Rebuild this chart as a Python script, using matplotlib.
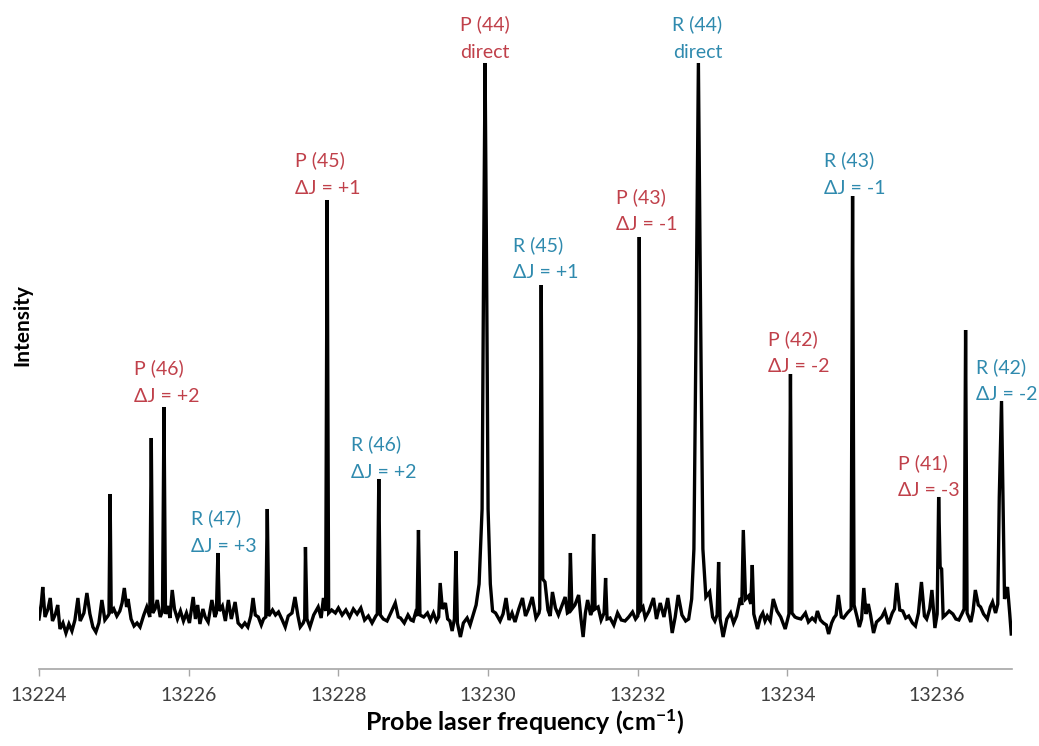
import numpy as np
import matplotlib
matplotlib.use("Agg")
from matplotlib import pyplot as plt

plt.rcParams['font.family'] = ['Lato', 'DejaVu Sans']
plt.rcParams['mathtext.default'] = 'regular'

# spectrum trace (cm-1, arbitrary intensity)
freq = [
    13224.00, 13224.03, 13224.05, 13224.08, 13224.12, 13224.15, 13224.18, 13224.22, 13224.25, 13224.28,
    13224.32, 13224.36, 13224.40, 13224.44, 13224.48, 13224.52, 13224.55, 13224.60, 13224.64, 13224.68,
    13224.72, 13224.76, 13224.80, 13224.84, 13224.88, 13224.92, 13224.935, 13224.95, 13224.965, 13225.00,
    13225.04, 13225.08, 13225.11, 13225.14, 13225.17, 13225.19, 13225.23, 13225.27, 13225.31, 13225.35,
    13225.40, 13225.44, 13225.48, 13225.50, 13225.52, 13225.55, 13225.58, 13225.62, 13225.65, 13225.67,
    13225.69, 13225.72, 13225.75, 13225.78, 13225.81, 13225.85, 13225.89, 13225.93, 13225.97, 13226.01,
    13226.06, 13226.09, 13226.12, 13226.15, 13226.19, 13226.22, 13226.26, 13226.31, 13226.35, 13226.37,
    13226.39, 13226.41, 13226.45, 13226.49, 13226.53, 13226.57, 13226.62, 13226.66, 13226.71, 13226.75,
    13226.79, 13226.83, 13226.86, 13226.89, 13226.93, 13226.97, 13227.00, 13227.03, 13227.05, 13227.07,
    13227.12, 13227.16, 13227.20, 13227.25, 13227.29, 13227.33, 13227.38, 13227.42, 13227.46, 13227.49,
    13227.53, 13227.55, 13227.56, 13227.58, 13227.62, 13227.67, 13227.73, 13227.77, 13227.80, 13227.83,
    13227.85, 13227.87, 13227.91, 13227.96, 13228.00, 13228.05, 13228.10, 13228.15, 13228.20, 13228.25,
    13228.30, 13228.35, 13228.40, 13228.45, 13228.50, 13228.52, 13228.54, 13228.56, 13228.60, 13228.65,
    13228.70, 13228.76, 13228.80, 13228.83, 13228.88, 13228.93, 13228.97, 13229.00, 13229.03, 13229.05,
    13229.07, 13229.09, 13229.14, 13229.19, 13229.23, 13229.27, 13229.31, 13229.34, 13229.36, 13229.39,
    13229.43, 13229.46, 13229.49, 13229.52, 13229.55, 13229.57, 13229.59, 13229.63, 13229.67, 13229.72,
    13229.76, 13229.80, 13229.84, 13229.88, 13229.92, 13229.94, 13229.96, 13229.98, 13230.00, 13230.03,
    13230.06, 13230.10, 13230.16, 13230.20, 13230.24, 13230.28, 13230.32, 13230.36, 13230.41, 13230.46,
    13230.50, 13230.54, 13230.59, 13230.64, 13230.68, 13230.69, 13230.71, 13230.73, 13230.76, 13230.80,
    13230.83, 13230.86, 13230.90, 13230.94, 13230.98, 13231.03, 13231.06, 13231.08, 13231.10, 13231.12,
    13231.16, 13231.21, 13231.24, 13231.27, 13231.30, 13231.33, 13231.37, 13231.39, 13231.41, 13231.43,
    13231.47, 13231.51, 13231.55, 13231.57, 13231.59, 13231.63, 13231.68, 13231.73, 13231.78, 13231.83,
    13231.88, 13231.93, 13231.97, 13232.00, 13232.02, 13232.04, 13232.07, 13232.10, 13232.15, 13232.21,
    13232.25, 13232.30, 13232.35, 13232.40, 13232.43, 13232.46, 13232.50, 13232.54, 13232.59, 13232.64,
    13232.68, 13232.72, 13232.75, 13232.78, 13232.81, 13232.84, 13232.87, 13232.91, 13232.96, 13233.00,
    13233.03, 13233.06, 13233.08, 13233.10, 13233.14, 13233.19, 13233.24, 13233.28, 13233.32, 13233.37,
    13233.39, 13233.41, 13233.44, 13233.48, 13233.51, 13233.53, 13233.55, 13233.60, 13233.64, 13233.67,
    13233.70, 13233.73, 13233.77, 13233.81, 13233.86, 13233.91, 13233.97, 13234.02, 13234.04, 13234.06,
    13234.10, 13234.13, 13234.18, 13234.24, 13234.28, 13234.33, 13234.37, 13234.40, 13234.44, 13234.48,
    13234.52, 13234.55, 13234.59, 13234.62, 13234.65, 13234.68, 13234.72, 13234.75, 13234.80, 13234.85,
    13234.87, 13234.89, 13234.93, 13234.96, 13234.99, 13235.02, 13235.05, 13235.08, 13235.11, 13235.15,
    13235.19, 13235.22, 13235.26, 13235.30, 13235.35, 13235.40, 13235.43, 13235.46, 13235.50, 13235.54,
    13235.58, 13235.62, 13235.67, 13235.71, 13235.75, 13235.79, 13235.83, 13235.86, 13235.90, 13235.93,
    13235.97, 13236.00, 13236.02, 13236.04, 13236.06, 13236.08, 13236.11, 13236.16, 13236.21, 13236.25,
    13236.29, 13236.33, 13236.36, 13236.38, 13236.40, 13236.45, 13236.48, 13236.51, 13236.55, 13236.58,
    13236.62, 13236.67, 13236.71, 13236.74, 13236.78, 13236.81, 13236.83, 13236.86, 13236.88, 13236.90,
    13236.94, 13236.97, 13236.99,
]
intensity = [
    5.0, 6.5, 8.2, 5.2, 6.0, 7.1, 4.8, 5.5, 6.4, 4.0,
    4.6, 3.6, 4.5, 3.8, 4.9, 7.1, 4.8, 5.6, 7.6, 5.5,
    4.2, 3.7, 4.6, 6.9, 4.9, 5.3, 5.5, 17.5, 5.6, 6.0,
    5.3, 5.8, 6.6, 8.1, 6.2, 7.0, 5.0, 4.3, 4.6, 4.2,
    5.4, 6.2, 5.2, 23.1, 5.6, 6.0, 6.9, 5.2, 5.8, 26.2,
    5.5, 6.3, 5.1, 7.9, 6.0, 5.0, 5.8, 4.8, 5.6, 4.6,
    7.2, 5.0, 6.4, 4.5, 6.0, 5.2, 4.7, 6.9, 5.2, 5.6,
    11.6, 5.8, 6.3, 4.8, 6.9, 5.0, 6.7, 4.6, 4.2, 4.6,
    4.2, 5.3, 7.1, 5.4, 5.2, 4.4, 5.0, 5.2, 16.0, 5.3,
    5.9, 5.4, 5.7, 4.9, 4.2, 5.3, 5.6, 7.2, 5.3, 4.2,
    4.6, 5.0, 12.2, 5.0, 4.2, 5.4, 6.2, 5.1, 7.1, 5.8,
    46.9, 5.6, 5.9, 5.6, 6.1, 5.4, 5.9, 5.2, 6.0, 5.5,
    6.1, 4.9, 5.3, 4.6, 5.3, 5.5, 19.0, 5.4, 5.0, 4.8,
    5.6, 6.6, 5.2, 5.1, 4.6, 5.4, 4.9, 4.8, 5.6, 5.3,
    13.9, 5.4, 5.2, 5.6, 4.9, 5.6, 4.8, 5.2, 8.6, 6.0,
    6.6, 5.0, 4.8, 3.8, 5.0, 11.8, 4.6, 3.2, 4.6, 5.1,
    4.4, 5.4, 6.4, 8.5, 16.0, 40.0, 60.6, 40.0, 16.0, 8.5,
    5.8, 5.6, 4.8, 5.5, 7.1, 4.9, 5.6, 4.7, 6.0, 7.1,
    5.3, 6.0, 7.2, 5.1, 5.6, 6.0, 38.4, 9.0, 8.7, 5.9,
    5.3, 7.7, 6.1, 5.4, 6.2, 7.2, 5.6, 5.7, 11.6, 6.0,
    6.4, 7.4, 5.1, 3.2, 5.6, 6.9, 5.4, 5.8, 13.5, 6.0,
    6.2, 4.9, 5.6, 9.1, 5.0, 5.1, 4.4, 5.6, 4.9, 4.8,
    5.2, 5.7, 5.0, 5.3, 43.2, 5.9, 6.2, 5.1, 5.8, 7.1,
    5.0, 6.6, 5.2, 7.1, 5.5, 3.6, 5.2, 7.4, 5.4, 4.8,
    5.0, 7.0, 12.0, 35.0, 60.6, 35.0, 12.0, 7.2, 7.7, 5.2,
    4.8, 5.4, 10.7, 5.0, 3.2, 5.0, 5.6, 4.6, 5.3, 7.1,
    6.4, 13.9, 7.0, 7.3, 6.5, 10.4, 5.5, 4.0, 5.2, 5.6,
    4.8, 5.3, 4.8, 7.0, 5.8, 5.2, 4.0, 5.5, 29.5, 5.6,
    5.2, 5.1, 5.0, 5.6, 4.7, 5.1, 4.8, 5.8, 4.9, 4.6,
    4.4, 3.5, 4.6, 5.1, 5.4, 7.4, 5.2, 5.1, 5.6, 6.0,
    47.3, 6.4, 5.2, 4.2, 5.0, 8.1, 5.5, 6.5, 5.4, 3.6,
    4.7, 4.9, 5.2, 5.8, 4.5, 5.6, 6.0, 8.6, 5.9, 5.8,
    5.1, 5.3, 4.6, 4.3, 5.6, 8.7, 5.3, 5.0, 6.0, 7.9,
    4.1, 5.5, 17.2, 10.2, 10.0, 5.2, 5.4, 5.8, 5.5, 5.0,
    4.9, 5.5, 6.0, 33.9, 5.6, 4.7, 5.8, 7.9, 6.4, 6.2,
    5.5, 5.0, 6.2, 6.7, 5.6, 6.5, 17.2, 26.8, 17.0, 7.0,
    8.2, 5.5, 3.5,
]

# line assignments
label_branch = ['P (44)', 'R (44)', 'P (45)', 'P (43)', 'R (45)', 'R (43)',
                'P (46)', 'P (42)', 'R (46)', 'R (47)', 'P (41)', 'R (42)']
label_note = ['direct', 'direct', u'\u0394J = +1', u'\u0394J = -1', u'\u0394J = +1', u'\u0394J = -1',
              u'\u0394J = +2', u'\u0394J = -2', u'\u0394J = +2', u'\u0394J = +3', u'\u0394J = -3', u'\u0394J = -2']

P_COLOR = '#C0404A'
R_COLOR = '#2F8AAE'

# where each label sits (pixel positions of the text, converted below)
label_px = [(485, 24, 'center'), (697, 24, 'center'), (295, 160, 'left'), (616, 197, 'left'),
            (513, 245, 'left'), (824, 160, 'left'), (134, 368, 'left'), (768, 339, 'left'),
            (351, 444, 'left'), (191, 518, 'left'), (897, 463, 'left'), (975, 367, 'left')]


def px_to_data(x, y):
    return 13224 + (x - 39) / 74.8, (669 - y) / 10.0


fig = plt.figure(figsize=(10.39, 7.46), dpi=100)
ax = fig.add_axes([39 / 1039, 77 / 746, 973 / 1039, 669 / 746])

ax.plot(freq, intensity, color='black', lw=2.4, solid_joinstyle='miter')

ax.set_xlim(13224, 13237)
ax.set_ylim(0, 66.9)
ax.set_xticks(np.arange(13224, 13237, 2))
ax.set_yticks([])
for s in ['top', 'right', 'left']:
    ax.spines[s].set_visible(False)
ax.spines['bottom'].set_color('#A6A6A6')
ax.spines['bottom'].set_linewidth(1.2)
ax.tick_params(axis='x', direction='out', length=5, color='#A6A6A6', width=1,
               labelsize=14, labelcolor='#404040', pad=8)

for name, note, (px, py, ha) in zip(label_branch, label_note, label_px):
    c = P_COLOR if name.startswith('P') else R_COLOR
    x0, y0 = px_to_data(px, py)
    _, y1 = px_to_data(px, py + 28)
    ax.text(x0, y0, name, color=c, fontsize=14, ha=ha, va='center')
    ax.text(x0, y1, note, color=c, fontsize=14, ha=ha, va='center')

fig.text(525 / 1039, 1 - 722 / 746, 'Probe laser frequency (cm$^{-1}$)', ha='center', va='center',
         fontsize=18, fontweight='bold')
fig.text(22 / 1039, 1 - 325 / 746, 'Intensity', ha='center', va='center', rotation=90,
         fontsize=15, fontweight='bold')

fig.savefig('out.png', dpi=100)
